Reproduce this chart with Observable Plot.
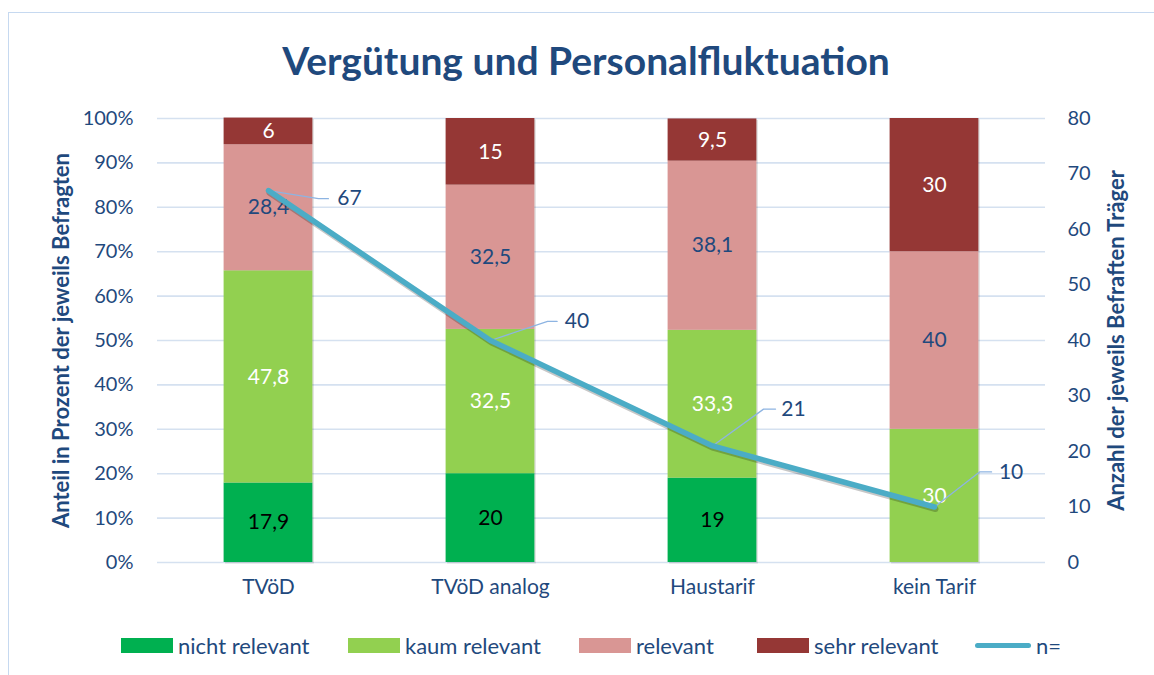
<!DOCTYPE html>
<html><head><meta charset="utf-8">
<script src="https://cdn.jsdelivr.net/npm/d3@7"></script>
<script src="https://cdn.jsdelivr.net/npm/@observablehq/plot@0.6"></script>
<style>
body{margin:0;background:#fff;font-family:Lato,"Open Sans",sans-serif;}
#wrap{position:relative;width:1154px;height:675px;overflow:hidden;background:#fff;}
#frame{position:absolute;left:8px;top:12px;width:1170px;height:700px;border:1px solid #C6D9F0;box-sizing:border-box;}
#title{position:absolute;left:0;width:1172px;top:36px;text-align:center;font-weight:700;font-size:39px;color:#1F497D;line-height:48px;}
#chart{position:absolute;left:0;top:100px;}
#legend{position:absolute;left:0;top:631px;width:1154px;height:28px;font-size:22px;color:#1F497D;}
.item{position:absolute;top:0;display:flex;align-items:center;height:28px;white-space:nowrap;}
.sw{width:52px;height:15px;margin-right:5px;}
.ln{width:56px;height:5px;border-radius:3px;margin-right:5px;}
</style></head>
<body><div id="wrap"><div id="frame"></div><div id="title"></div><div id="chart"></div><div id="legend"></div></div>
<script>
const title = "Vergütung und Personalfluktuation";
const categories = ["TVöD", "TVöD analog", "Haustarif", "kein Tarif"];
const levels = ["nicht relevant", "kaum relevant", "relevant", "sehr relevant"];
const nichtRelevant = [17.9, 20, 19, 0];
const kaumRelevant = [47.8, 32.5, 33.3, 30];
const relevant = [28.4, 32.5, 38.1, 40];
const sehrRelevant = [6, 15, 9.5, 30];
const nValues = [67, 40, 21, 10];
const nLabel = "n=";
const pctTicks = [0, 10, 20, 30, 40, 50, 60, 70, 80, 90, 100];
const nTicks = [0, 10, 20, 30, 40, 50, 60, 70, 80];
const nMax = 80;
const leftTitle = "Anteil in Prozent der jeweils Befragten";
const rightTitle = "Anzahl der jeweils Befraften Träger";

// styling
const levelColor = {"nicht relevant": "#00B050", "kaum relevant": "#92D050", "relevant": "#D99694", "sehr relevant": "#953735"};
const labelColor = {"nicht relevant": "#000000", "kaum relevant": "#FFFFFF", "relevant": "#1F497D", "sehr relevant": "#FFFFFF"};
const lineColor = "#4BACC6";
const leaderColor = "#8DB4E2";
const textColor = "#1F497D";
// label offsets for n= labels: [diagonal dx, dy (pct), horizontal end dx, label dx]
const nLabelOffsets = [[0.225, -1.8, 0.27, 0.31], [0.257, 4.3, 0.30, 0.335], [0.23, 8.3, 0.284, 0.31], [0.203, 7.9, 0.257, 0.29]];

const series = [nichtRelevant, kaumRelevant, relevant, sehrRelevant];
const rows = levels.flatMap((level, li) => categories.map((cat, i) => ({i, cat, level, value: series[li][i]})));
const nRows = nValues.map((n, i) => ({i, n, p: n / nMax * 100}));
const leaderRows = nRows.flatMap(d => {
  const o = nLabelOffsets[d.i];
  return [{k: d.i, x: d.i, y: d.p}, {k: d.i, x: d.i + o[0], y: d.p + o[1]}, {k: d.i, x: d.i + o[2], y: d.p + o[1]}];
});
const fmt = v => String(v).replace(".", ",");
const halfBar = 0.2;

document.getElementById("title").textContent = title;

const plot = Plot.plot({
  width: 1154,
  height: 500,
  marginLeft: 157,
  marginRight: 109,
  marginTop: 18,
  marginBottom: 38,
  style: {fontFamily: "Lato, 'Open Sans', sans-serif", fontSize: "20px", color: textColor, background: "transparent", overflow: "visible"},
  x: {type: "linear", domain: [-0.5, categories.length - 0.5]},
  y: {domain: [0, 100]},
  color: {type: "identity"},
  marks: [
    Plot.gridY(pctTicks, {stroke: "#D5E1F0", strokeOpacity: 1, strokeWidth: 1.6}),
    Plot.rectY(rows, {x: "i", x1: d => d.i - halfBar, x2: d => d.i + halfBar, y: "value", fill: "rgba(0,0,0,0.12)", dx: 1.5, dy: 1.5}),
    Plot.rectY(rows, {x: "i", x1: d => d.i - halfBar, x2: d => d.i + halfBar, y: "value", fill: d => levelColor[d.level]}),
    Plot.text(rows, Plot.stackY({x: "i", y: "value", text: d => d.value > 0 ? fmt(d.value) : "", fill: d => labelColor[d.level], fontSize: 21})),
    Plot.line(leaderRows, {x: "x", y: "y", z: "k", stroke: leaderColor, strokeWidth: 1.3}),
    Plot.line(nRows, {x: "i", y: "p", stroke: "rgba(0,0,0,0.22)", strokeWidth: 6, dx: 1, dy: 2, strokeLinejoin: "round", strokeLinecap: "round"}),
    Plot.line(nRows, {x: "i", y: "p", stroke: lineColor, strokeWidth: 5.5, strokeLinejoin: "round", strokeLinecap: "round"}),
    Plot.text(nRows, {x: d => d.i + nLabelOffsets[d.i][3], y: d => d.p + nLabelOffsets[d.i][1], text: d => String(d.n), textAnchor: "start", fill: textColor, fontSize: 21}),
    Plot.axisY(pctTicks, {anchor: "left", tickFormat: d => d + "%", tickSize: 0, tickPadding: 24, label: null, fontSize: 20}),
    Plot.axisY(nTicks.map(n => n / nMax * 100), {anchor: "right", tickFormat: v => String(Math.round(v * nMax / 100)), tickSize: 0, tickPadding: 22, label: null, fontSize: 20}),
    Plot.axisX(categories.map((c, i) => i), {tickFormat: i => categories[i], tickSize: 0, tickPadding: 17, label: null, fontSize: 21}),
    Plot.text([leftTitle], {frameAnchor: "left", textAnchor: "middle", rotate: -90, dx: -96, text: d => d, fontWeight: "bold", fontSize: 22, fill: textColor}),
    Plot.text([rightTitle], {frameAnchor: "right", textAnchor: "middle", rotate: -90, dx: 71, text: d => d, fontWeight: "bold", fontSize: 22, fill: textColor})
  ]
});
document.getElementById("chart").appendChild(plot);

const legendItems = [
  ...levels.map(l => ({label: l, color: levelColor[l], kind: "sw"})),
  {label: nLabel, color: lineColor, kind: "ln"}
];
const legendLefts = [121, 348, 579, 757, 975];
const legend = document.getElementById("legend");
legendItems.forEach((it, k) => {
  const div = document.createElement("div");
  div.className = "item";
  div.style.left = legendLefts[k] + "px";
  const sw = document.createElement("span");
  sw.className = it.kind;
  sw.style.background = it.color;
  div.appendChild(sw);
  const t = document.createElement("span");
  t.textContent = it.label;
  div.appendChild(t);
  legend.appendChild(div);
});
</script></body></html>
